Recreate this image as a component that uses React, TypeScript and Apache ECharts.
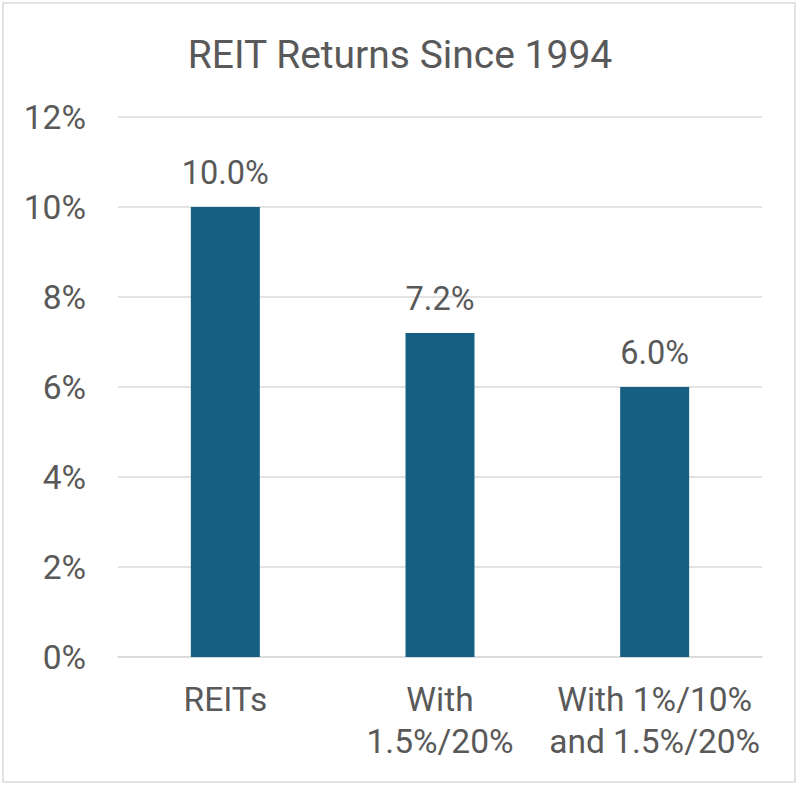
import React, { useEffect, useRef } from "react";
import * as echarts from "echarts";

const categories = ["REITs", "With\n1.5%/20%", "With 1%/10%\nand 1.5%/20%"];
const returnsPct = [10.0, 7.2, 6.0];
const yTicks = { min: 0, max: 12, interval: 2 };
const titleText = "REIT Returns Since 1994";

export default function App() {
  const ref = useRef<HTMLDivElement>(null);
  useEffect(() => {
    if (!ref.current) return;
    const chart = echarts.init(ref.current, null, { renderer: "svg" });
    const textColor = "#595959";
    const font = "Roboto, 'Noto Sans', sans-serif";
    chart.setOption({
      animation: false,
      backgroundColor: "#ffffff",
      title: {
        text: titleText,
        left: "center",
        top: 30,
        textStyle: { color: textColor, fontSize: 39, fontWeight: "normal", fontFamily: font },
      },
      graphic: [
        {
          type: "rect",
          shape: { x: 3, y: 3, width: 792, height: 779 },
          style: { fill: "none", stroke: "#d9d9d9", lineWidth: 1.5 },
          silent: true,
        },
      ],
      grid: { left: 118, right: 38, top: 117, bottom: 130, containLabel: false },
      xAxis: {
        type: "category",
        data: categories,
        axisLine: { show: true, lineStyle: { color: "#d9d9d9", width: 1.5 } },
        axisTick: { show: false },
        axisLabel: {
          color: textColor,
          fontSize: 33.5,
          fontFamily: font,
          lineHeight: 42,
          margin: 21,
          interval: 0,
        },
      },
      yAxis: {
        type: "value",
        min: yTicks.min,
        max: yTicks.max,
        interval: yTicks.interval,
        axisLine: { show: false },
        axisTick: { show: false },
        axisLabel: {
          color: textColor,
          fontSize: 33.5,
          fontFamily: font,
          margin: 32,
          formatter: (v: number) => `${v}%`,
        },
        splitLine: { lineStyle: { color: "#d9d9d9", width: 1.5 } },
      },
      series: [
        {
          type: "bar",
          data: returnsPct,
          barWidth: 69,
          itemStyle: { color: "#156082" },
          label: {
            show: true,
            position: "top",
            distance: 18,
            color: textColor,
            fontSize: 32.5,
            fontFamily: font,
            formatter: (p: any) => `${p.value.toFixed(1)}%`,
          },
        },
      ],
    });
    return () => chart.dispose();
  }, []);
  return (
    <div
      ref={ref}
      style={{ position: "absolute", left: 0, top: 0, width: 800, height: 787 }}
    />
  );
}
